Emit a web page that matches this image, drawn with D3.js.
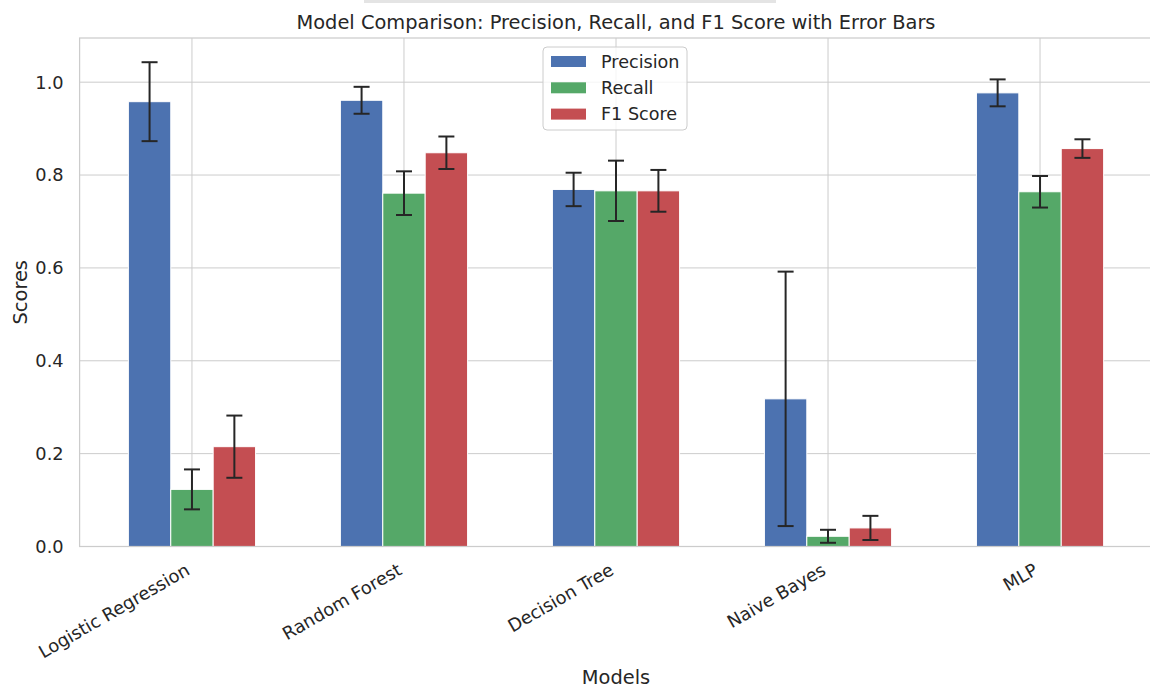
<!DOCTYPE html>
<html>
<head>
<meta charset="utf-8">
<script src="https://cdn.jsdelivr.net/npm/d3@7"></script>
<style>
  body { margin: 0; background: #fff; }
  text { font-family: "DejaVu Sans", sans-serif; fill: #262626; }
</style>
</head>
<body>
<div id="chart"></div>
<script>
const width = 1150, height = 689

const models = ["Logistic Regression", "Random Forest", "Decision Tree", "Naive Bayes", "MLP"]
const metrics = ["Precision", "Recall", "F1 Score"]
const precision = [0.958, 0.961, 0.769, 0.318, 0.977]
const recall = [0.123, 0.761, 0.766, 0.022, 0.764]
const f1 = [0.215, 0.848, 0.766, 0.040, 0.857]
const precisionErr = [0.085, 0.029, 0.036, 0.274, 0.029]
const recallErr = [0.043, 0.047, 0.065, 0.014, 0.034]
const f1Err = [0.067, 0.035, 0.045, 0.026, 0.020]
const yTicks = [0.0, 0.2, 0.4, 0.6, 0.8, 1.0]
const colors = ["#4C72B0", "#55A868", "#C44E52"]

const values = [precision, recall, f1]
const errors = [precisionErr, recallErr, f1Err]
const barWidth = 0.2

// one row per bar
const bars = []
metrics.forEach((m, j) => {
    models.forEach((name, i) => {
        bars.push({ metric: m, j, i, value: values[j][i], err: errors[j][i] })
    })
})

const svg = d3.select('#chart')
    .append('svg')
    .attr('width', width)
    .attr('height', height)

// matplotlib-like 5% margins
const xMin = -1.5 * barWidth, xMax = models.length - 1 + 1.5 * barWidth
const xPad = (xMax - xMin) * 0.05
const x = d3.scaleLinear()
    .domain([xMin - xPad, xMax + xPad])
    .range([79.6, 1152.4])

const yTop = d3.max(bars, d => d.value + d.err) * 1.05
const y = d3.scaleLinear()
    .domain([0, yTop])
    .range([546.5, 38])

const plotLeft = x.range()[0], plotRight = x.range()[1]
const plotTop = y.range()[1], plotBottom = y.range()[0]

// faint strip at the very top of the picture
svg.append('rect')
    .attr('x', 364).attr('y', 0)
    .attr('width', 412).attr('height', 3)
    .attr('fill', '#e4e4e4')

// grid
svg.append('g')
    .selectAll('line')
    .data(yTicks)
    .join('line')
    .attr('x1', plotLeft).attr('x2', plotRight)
    .attr('y1', d => y(d)).attr('y2', d => y(d))
    .attr('stroke', '#cccccc')
    .attr('stroke-width', 1)

svg.append('g')
    .selectAll('line')
    .data(models)
    .join('line')
    .attr('x1', (d, i) => x(i)).attr('x2', (d, i) => x(i))
    .attr('y1', plotTop).attr('y2', plotBottom)
    .attr('stroke', '#cccccc')
    .attr('stroke-width', 1)

// bars
svg.append('g')
    .selectAll('rect')
    .data(bars)
    .join('rect')
    .attr('x', d => x(d.i + (d.j - 1) * barWidth - barWidth / 2))
    .attr('width', d => x(barWidth) - x(0))
    .attr('y', d => y(d.value))
    .attr('height', d => y(0) - y(d.value))
    .attr('fill', d => colors[d.j])
    .attr('stroke', '#ffffff')
    .attr('stroke-width', 1)

// error bars
const capHalf = 8
const eb = svg.append('g')
    .attr('stroke', '#262626')
    .attr('stroke-width', 2)
    .selectAll('g')
    .data(bars)
    .join('g')
    .attr('transform', d => `translate(${x(d.i + (d.j - 1) * barWidth)},0)`)

eb.append('line')
    .attr('y1', d => y(d.value - d.err))
    .attr('y2', d => y(d.value + d.err))
eb.append('line')
    .attr('x1', -capHalf).attr('x2', capHalf)
    .attr('y1', d => y(d.value - d.err))
    .attr('y2', d => y(d.value - d.err))
eb.append('line')
    .attr('x1', -capHalf).attr('x2', capHalf)
    .attr('y1', d => y(d.value + d.err))
    .attr('y2', d => y(d.value + d.err))

// spines
svg.append('rect')
    .attr('x', plotLeft).attr('y', plotTop)
    .attr('width', plotRight - plotLeft)
    .attr('height', plotBottom - plotTop)
    .attr('fill', 'none')
    .attr('stroke', '#cccccc')
    .attr('stroke-width', 1.25)

// y tick labels
svg.append('g')
    .selectAll('text')
    .data(yTicks)
    .join('text')
    .attr('x', plotLeft - 16)
    .attr('y', d => y(d))
    .attr('dy', '0.36em')
    .attr('text-anchor', 'end')
    .style('font-size', '17.8px')
    .text(d => d.toFixed(1))

// x tick labels, rotated 30 degrees
svg.append('g')
    .selectAll('text')
    .data(models)
    .join('text')
    .attr('transform', (d, i) => `translate(${x(i) - 1},${plotBottom + 27}) rotate(-30)`)
    .attr('text-anchor', 'end')
    .style('font-size', '17.8px')
    .text(d => d)

// axis labels and title
svg.append('text')
    .attr('x', (plotLeft + plotRight) / 2)
    .attr('y', 684)
    .attr('text-anchor', 'middle')
    .style('font-size', '19.4px')
    .text('Models')

svg.append('text')
    .attr('transform', `translate(27,${(plotTop + plotBottom) / 2}) rotate(-90)`)
    .attr('text-anchor', 'middle')
    .style('font-size', '19.4px')
    .text('Scores')

svg.append('text')
    .attr('x', (plotLeft + plotRight) / 2)
    .attr('y', 29)
    .attr('text-anchor', 'middle')
    .style('font-size', '19.4px')
    .text('Model Comparison: Precision, Recall, and F1 Score with Error Bars')

// legend
const legend = svg.append('g')
    .attr('transform', 'translate(543,47)')

legend.append('rect')
    .attr('width', 144).attr('height', 83)
    .attr('rx', 4)
    .attr('fill', 'rgba(255,255,255,0.8)')
    .attr('stroke', '#cccccc')
    .attr('stroke-width', 1)

const items = legend.selectAll('g.item')
    .data(metrics)
    .join('g')
    .attr('class', 'item')
    .attr('transform', (d, i) => `translate(8,${14.5 + i * 26.3})`)

items.append('rect')
    .attr('x', 0).attr('y', -5.5)
    .attr('width', 35).attr('height', 11)
    .attr('fill', (d, i) => colors[i])

items.append('text')
    .attr('x', 50)
    .attr('dy', '0.36em')
    .style('font-size', '17.6px')
    .text(d => d)
</script>
</body>
</html>
